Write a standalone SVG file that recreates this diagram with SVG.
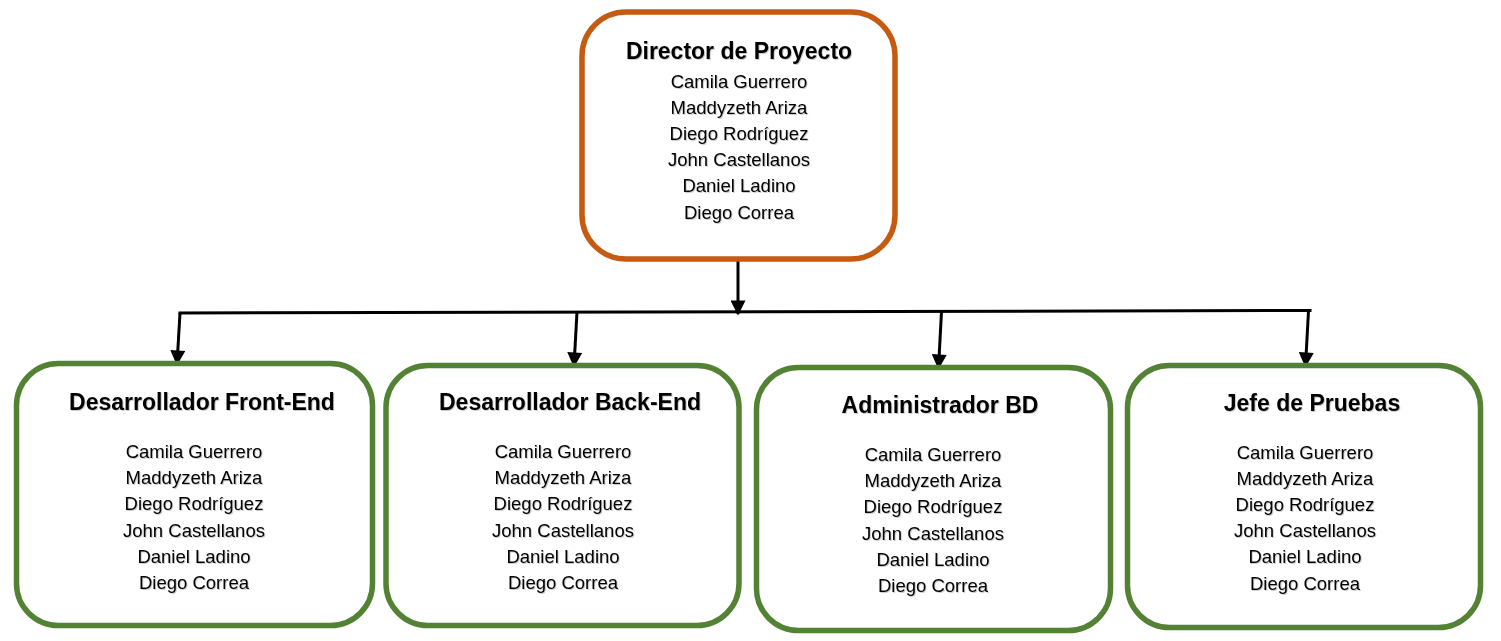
<svg xmlns="http://www.w3.org/2000/svg" width="1501" height="641" viewBox="0 0 1501 641">
<style>
.box{fill:#ffffff;stroke-width:5.5}
.dir{stroke:#C55A11}
.role{stroke:#548235}
text{font-family:"Liberation Sans",Arial,sans-serif;fill:#000;text-anchor:middle}
.t{font-weight:bold;font-size:23px}
.n{font-size:18.5px}
.conn{stroke:#000;stroke-width:3;fill:none}
</style>
<defs>
<marker id="arr" viewBox="0 0 10 10" refX="9" refY="5" markerWidth="5.5" markerHeight="5" orient="auto" markerUnits="strokeWidth">
<path d="M0,0 L10,5 L0,10 z" fill="#000"/>
</marker>
<filter id="sh" x="-5%" y="-20%" width="110%" height="140%">
<feDropShadow dx="1" dy="1" stdDeviation="0.6" flood-color="#000" flood-opacity="0.2"/>
</filter>
</defs>

<g id="connectors">
<line class="conn" x1="738" y1="259" x2="738" y2="314" marker-end="url(#arr)"/>
<line class="conn" x1="178.5" y1="313" x2="1311.5" y2="310.5"/>
<line class="conn" x1="180" y1="313" x2="177" y2="364" marker-end="url(#arr)"/>
<line class="conn" x1="577" y1="312" x2="574" y2="366" marker-end="url(#arr)"/>
<line class="conn" x1="941.5" y1="311.5" x2="938.5" y2="368" marker-end="url(#arr)"/>
<line class="conn" x1="1308.5" y1="311" x2="1305.5" y2="366" marker-end="url(#arr)"/>
</g>

<g id="director">
<rect class="box dir" x="582" y="12" width="313" height="247" rx="44" ry="44" stroke-width="6"/>
<g filter="url(#sh)">
<text class="t" x="739" y="59">Director de Proyecto</text>
<text class="n" x="739" y="87.5">Camila Guerrero</text>
<text class="n" x="739" y="113.7">Maddyzeth Ariza</text>
<text class="n" x="739" y="139.9">Diego Rodríguez</text>
<text class="n" x="739" y="166.1">John Castellanos</text>
<text class="n" x="739" y="192.3">Daniel Ladino</text>
<text class="n" x="739" y="218.5">Diego Correa</text>
</g>
</g>

<g id="frontend">
<rect class="box role" x="16.5" y="363.5" width="356" height="262" rx="42" ry="42"/>
<g filter="url(#sh)">
<text class="t" x="202" y="410">Desarrollador Front-End</text>
<text class="n" x="194" y="458">Camila Guerrero</text>
<text class="n" x="194" y="484.2">Maddyzeth Ariza</text>
<text class="n" x="194" y="510.4">Diego Rodríguez</text>
<text class="n" x="194" y="536.6">John Castellanos</text>
<text class="n" x="194" y="562.8">Daniel Ladino</text>
<text class="n" x="194" y="589">Diego Correa</text>
</g>
</g>

<g id="backend">
<rect class="box role" x="386" y="365.5" width="353" height="260" rx="42" ry="42"/>
<g filter="url(#sh)">
<text class="t" x="570" y="410">Desarrollador Back-End</text>
<text class="n" x="563" y="458">Camila Guerrero</text>
<text class="n" x="563" y="484.2">Maddyzeth Ariza</text>
<text class="n" x="563" y="510.4">Diego Rodríguez</text>
<text class="n" x="563" y="536.6">John Castellanos</text>
<text class="n" x="563" y="562.8">Daniel Ladino</text>
<text class="n" x="563" y="589">Diego Correa</text>
</g>
</g>

<g id="adminbd">
<rect class="box role" x="756.5" y="367.5" width="354" height="263" rx="42" ry="42"/>
<g filter="url(#sh)">
<text class="t" x="940" y="413">Administrador BD</text>
<text class="n" x="933" y="461">Camila Guerrero</text>
<text class="n" x="933" y="487.2">Maddyzeth Ariza</text>
<text class="n" x="933" y="513.4">Diego Rodríguez</text>
<text class="n" x="933" y="539.6">John Castellanos</text>
<text class="n" x="933" y="565.8">Daniel Ladino</text>
<text class="n" x="933" y="592">Diego Correa</text>
</g>
</g>

<g id="jefepruebas">
<rect class="box role" x="1127.5" y="365.5" width="353" height="262" rx="42" ry="42"/>
<g filter="url(#sh)">
<text class="t" x="1312" y="411">Jefe de Pruebas</text>
<text class="n" x="1305" y="458.5">Camila Guerrero</text>
<text class="n" x="1305" y="484.7">Maddyzeth Ariza</text>
<text class="n" x="1305" y="510.9">Diego Rodríguez</text>
<text class="n" x="1305" y="537.1">John Castellanos</text>
<text class="n" x="1305" y="563.3">Daniel Ladino</text>
<text class="n" x="1305" y="589.5">Diego Correa</text>
</g>
</g>
</svg>
